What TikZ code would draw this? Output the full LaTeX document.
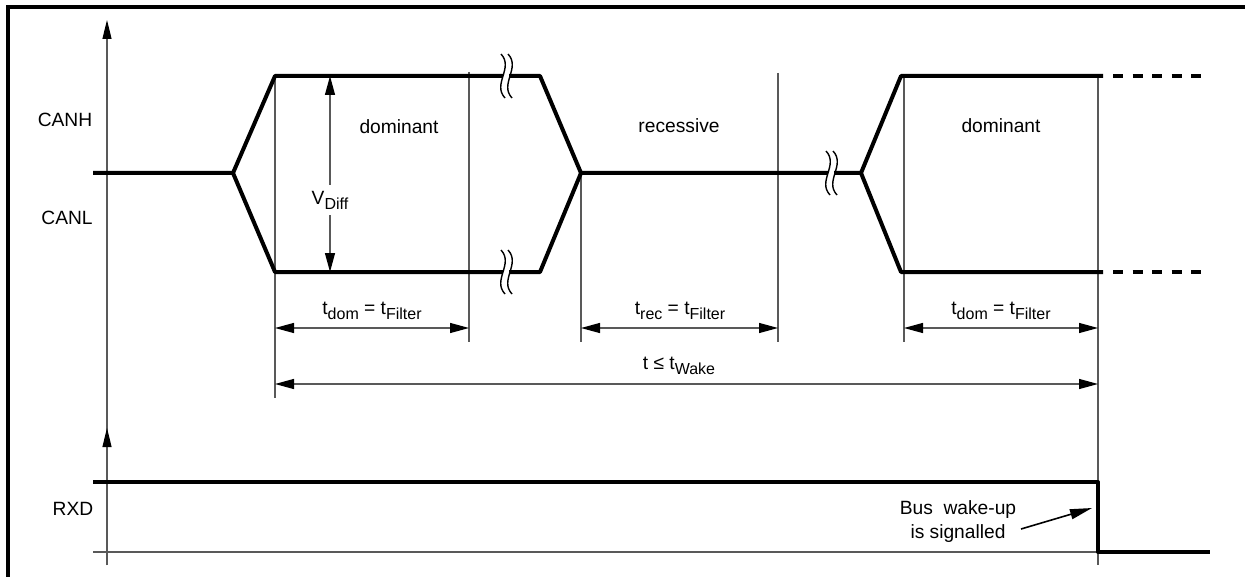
\documentclass[tikz,border=0pt]{standalone}
\usepackage{fontspec}
\setmainfont{Liberation Sans}
\usetikzlibrary{arrows.meta}
\newcommand{\lowtxt}[1]{\raisebox{-0.5ex}{\fontsize{8pt}{8pt}\selectfont #1}}
\begin{document}
\begin{tikzpicture}[x=0.5pt,y=-0.5pt,
  sig/.style={line width=2pt, line join=round},
  thinln/.style={line width=0.6pt, draw=black!65},
  dimarrow/.style={thinln, {Triangle[length=9.5pt,width=5pt,color=black,fill=black]}-{Triangle[length=9.5pt,width=5pt,color=black,fill=black]}},
  lbl/.style={font=\fontsize{9.6pt}{11pt}\selectfont, inner sep=1pt},
  dashsig/.style={line width=2pt, dash pattern=on 5pt off 4.75pt},
  brkpic/.pic={
    \fill[white] (-3,-16) rectangle (3,16);
    \draw[line width=0.7pt] (-5,-22) .. controls (8,-8) and (-14,8) .. (-1,22);
    \draw[line width=0.7pt] (2,-22) .. controls (15,-8) and (-7,8) .. (6,22);
  }
]
\useasboundingbox (0,0) rectangle (1245,577);
\fill[white] (0,0) rectangle (1245,577);
% frame
\draw[line width=1.8pt] (8,577) -- (8,7) -- (1245,7);

% key coordinates
\coordinate (r0) at (93,173);
\coordinate (s1) at (233,173);
\coordinate (h1) at (275,76);
\coordinate (l1) at (275,272);
\coordinate (h2) at (540,76);
\coordinate (l2) at (540,272);
\coordinate (m2) at (581,173);
\coordinate (s3) at (861,173);
\coordinate (h3) at (901,76);
\coordinate (l3) at (901,272);
\coordinate (h4) at (1103,76);
\coordinate (l4) at (1103,272);
\coordinate (hd0) at (1113,76);
\coordinate (hd1) at (1202,76);
\coordinate (ld0) at (1113,272);
\coordinate (ld1) at (1202,272);

% axis
\coordinate (ax0) at (107,565);
\coordinate (ax1) at (107,20);
\coordinate (ax2) at (107,428);
\draw[thinln, -{Triangle[length=9.5pt,width=4.5pt,color=black,fill=black]}] (ax0) -- (ax1);
\draw[thinln, -{Triangle[length=9.5pt,width=4.5pt,color=black,fill=black]}] (ax0) -- (ax2);

% thin verticals
\draw[thinln] (275,76) -- (275,398);
\draw[thinln] (469,72) -- (469,342);
\draw[thinln] (581,173) -- (581,342);
\draw[thinln] (778,73) -- (778,342);
\draw[thinln] (904,76) -- (904,342);
\draw[thinln] (1098,76) -- (1098,565);

% CAN signals
\draw[sig] (r0) -- (s1) -- (h1) -- (h2) -- (m2) -- (s3) -- (h3) -- (h4);
\draw[sig] (s1) -- (l1) -- (l2) -- (m2);
\draw[sig] (s3) -- (l3) -- (l4);
\draw[dashsig] (hd0) -- (hd1);
\draw[dashsig] (ld0) -- (ld1);

% breaks
\pic at (506,76) {brkpic};
\pic at (506,272) {brkpic};
\pic at (831,173) {brkpic};

% VDiff
\coordinate (vd0) at (330,76);
\coordinate (vd1) at (330,272);
\draw[dimarrow] (vd0) -- (vd1);
\node[lbl, fill=white, inner sep=3pt] (vdiff) at (330,200) {V\lowtxt{Diff}};

% labels
\node[lbl] (canh) at (65,120) {CANH};
\node[lbl] (canl) at (67,218) {CANL};
\node[lbl] (rxd) at (73,509) {RXD};
\node[lbl] (dom1) at (399,127) {dominant};
\node[lbl] (rec) at (679,126) {recessive};
\node[lbl] (dom2) at (1001,126) {dominant};

% dimension arrows
\draw[dimarrow] (275,328) -- (469,328);
\draw[dimarrow] (581,328) -- (778,328);
\draw[dimarrow] (904,328) -- (1098,328);
\draw[dimarrow] (275,384) -- (1098,384);
\node[lbl] (tdom1) at (372,311) {t\lowtxt{dom} = t\lowtxt{Filter}};
\node[lbl] (trec) at (680,311) {t\lowtxt{rec} = t\lowtxt{Filter}};
\node[lbl] (tdom2) at (1001,311) {t\lowtxt{dom} = t\lowtxt{Filter}};
\node[lbl] (twake) at (679,366) {t ≤ t\lowtxt{Wake}};

% RXD
\draw[thinln] (93,552) -- (1098,552);
\draw[sig] (93,482) -- (1098,482) -- (1098,552) -- (1210,552);
\node[lbl, align=center] (bus) at (958,522) {Bus\ \ wake-up\\[1pt]is signalled};
\coordinate (busarrow) at (1092,508);
\draw[line width=0.8pt, -{Triangle[length=11pt,width=5pt,fill=black]}] (1021,529) -- (busarrow);
\end{tikzpicture}
\end{document}
